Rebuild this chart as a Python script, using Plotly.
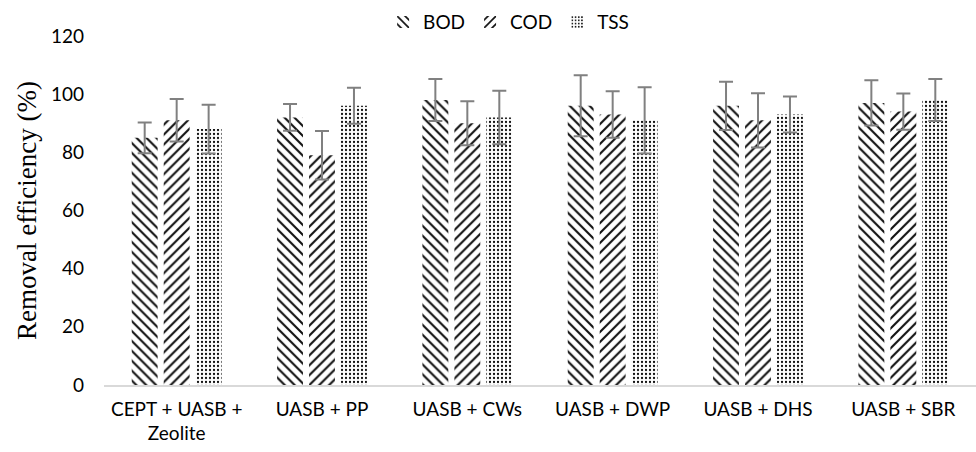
import plotly.graph_objects as go

categories = ["CEPT + UASB +<br>Zeolite", "UASB + PP", "UASB + CWs", "UASB + DWP", "UASB + DHS", "UASB + SBR"]
bod = [85, 92, 98, 96, 96, 97]
bod_err = [5.3, 4.6, 7.2, 10.5, 8.3, 7.8]
cod = [91, 79, 90, 93, 91, 94]
cod_err = [7.3, 8.3, 7.6, 8.0, 9.3, 6.2]
tss = [88, 96, 92, 91, 93, 98]
tss_err = [8.4, 6.2, 9.2, 11.4, 6.2, 7.2]

series = [
    ("BOD", bod, bod_err, "\\", 7, 0.3),
    ("COD", cod, cod_err, "/", 7, 0.3),
    ("TSS", tss, tss_err, ".", 4, 0.25),
]

fig = go.Figure()
for name, vals, errs, shape, size, sol in series:
    fig.add_trace(go.Bar(
        name=name, x=categories, y=vals,
        marker=dict(color="white", line=dict(width=0),
                    pattern=dict(shape=shape, fgcolor="#111111", bgcolor="white",
                                 size=size, solidity=sol, fillmode="replace")),
        error_y=dict(type="data", array=errs, visible=True, color="#808080",
                     thickness=2, width=7),
    ))

fig.update_layout(
    width=976, height=452,
    margin=dict(l=104, r=0, t=36, b=67, autoexpand=False),
    paper_bgcolor="white", plot_bgcolor="white",
    barmode="group", bargap=0.34, bargroupgap=0.19,
    font=dict(family="Lato, Open Sans, sans-serif", size=19, color="#000000"),
    legend=dict(orientation="h", x=0.464, xanchor="center",
                yref="container", y=0.951, yanchor="middle",
                font=dict(size=19), traceorder="normal", itemwidth=30),
    showlegend=True,
)
fig.update_xaxes(showline=True, linecolor="#d9d9d9", linewidth=1.5, ticks="",
                 showgrid=False, tickfont=dict(size=19), ticklabelstandoff=6)
fig.update_yaxes(range=[0, 120], tickvals=[0, 20, 40, 60, 80, 100, 120],
                 showgrid=False, zeroline=False, showline=False, ticks="",
                 ticklabelstandoff=19, tickfont=dict(size=19),
                 title=dict(text="Removal efficiency (%)",
                            font=dict(family="Liberation Serif, Times New Roman, serif", size=27),
                            standoff=6))

fig.write_html("out.html")
